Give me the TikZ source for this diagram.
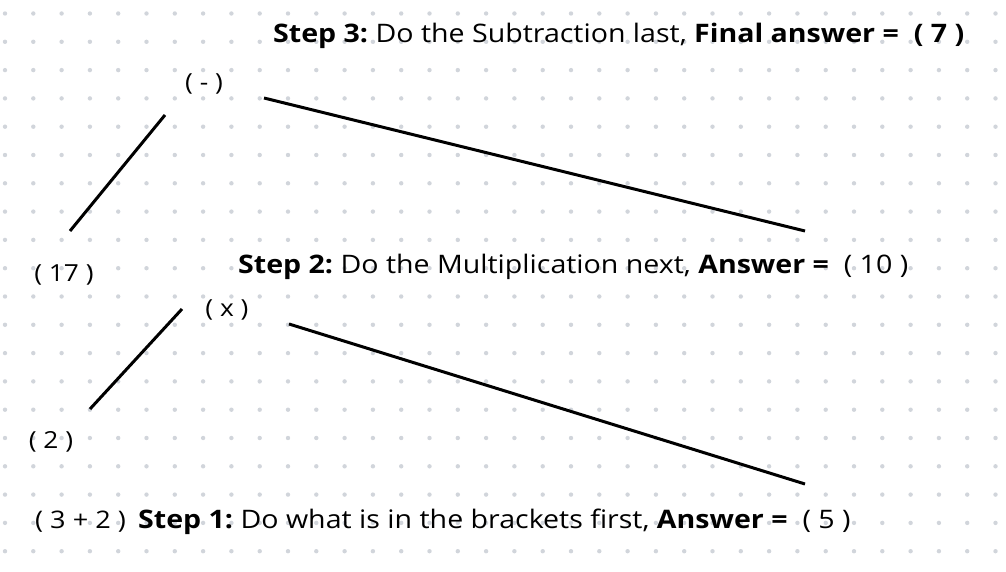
\documentclass[tikz,border=0pt]{standalone}
\usepackage{fontspec}
\setmainfont{Open Sans}[FakeStretch=1.12]
\frenchspacing
\begin{document}
\begin{tikzpicture}[x=1pt,y=-1pt,
  lbl/.style={inner sep=0pt,font=\fontsize{23.5}{27}\selectfont},
  steptext/.style={inner sep=0pt,anchor=base west,font=\fontsize{25.5}{30}\selectfont},
  link/.style={line width=3pt,black}]
\useasboundingbox (0,0) rectangle (1006,572);
\fill[white] (0,0) rectangle (1006,572);
\definecolor{dotgray}{RGB}{209,213,219}
\foreach \i in {0,...,35}{
  \foreach \j in {0,...,19}{
    \fill[dotgray] ({5+28.3*\i},{13.5+28.3*\j}) circle (2.2);
  }
}
% texts
\node[steptext] (s3) at (273,43) {\textbf{Step 3:} Do the Subtraction last, \textbf{Final answer =\ \ ( 7 )}};
\node[lbl] (minus) at (204,84) {( - )};
\node[lbl] (n17) at (64,275) {( 17 )};
\node[steptext] (s2) at (238,273) {\textbf{Step 2:} Do the Multiplication next, \textbf{Answer =}\ \ ( 10 )};
\node[lbl] (times) at (227,310) {( x )};
\node[lbl] (n2) at (51,442) {( 2 )};
\node[steptext,font=\fontsize{24.2}{28}\selectfont] (n32) at (35,528) {( 3 + 2 )};
\node[steptext] (s1) at (138,528) {\textbf{Step 1:} Do what is in the brackets first, \textbf{Answer =}\ \ ( 5 )};
% connector ends
\coordinate (a1) at (165,115); \coordinate (a2) at (70,231);
\coordinate (b1) at (264,98);  \coordinate (b2) at (805,231);
\coordinate (c1) at (182,309); \coordinate (c2) at (90,409);
\coordinate (d1) at (289,324); \coordinate (d2) at (805,484);
\draw[link] (a1) -- (a2);
\draw[link] (b1) -- (b2);
\draw[link] (c1) -- (c2);
\draw[link] (d1) -- (d2);
\end{tikzpicture}
\end{document}
